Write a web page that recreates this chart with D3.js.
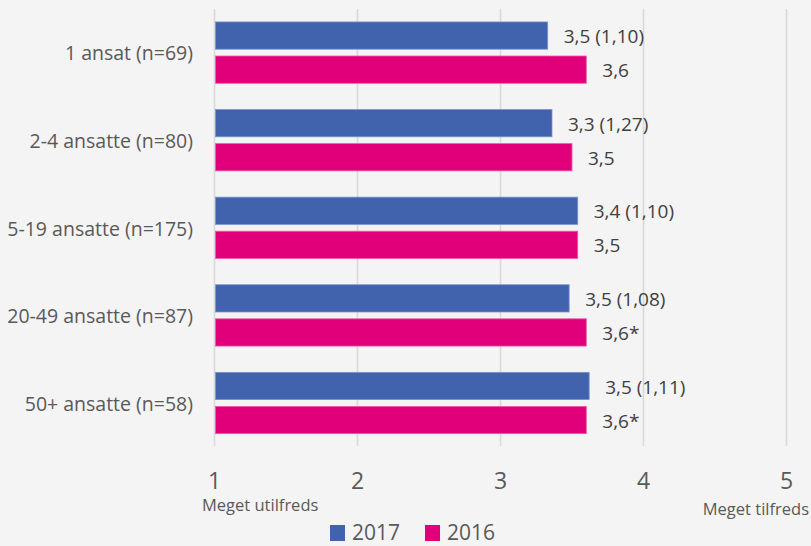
<!DOCTYPE html>
<html>
<head>
<meta charset="utf-8">
<script src="https://d3js.org/d3.v7.min.js"></script>
<style>
  body { margin: 0; background: #f4f4f4; }
  text { font-family: "Open Sans", sans-serif; }
</style>
</head>
<body>
<div id="chart"></div>
<script>
// data
var categories = ["1 ansat (n=69)", "2-4 ansatte (n=80)", "5-19 ansatte (n=175)", "20-49 ansatte (n=87)", "50+ ansatte (n=58)"];
var series = ["2017", "2016"];
var values2017 = [3.33, 3.36, 3.54, 3.48, 3.62];
var values2016 = [3.60, 3.50, 3.54, 3.60, 3.60];
var labels2017 = ["3,5 (1,10)", "3,3 (1,27)", "3,4 (1,10)", "3,5 (1,08)", "3,5 (1,11)"];
var labels2016 = ["3,6", "3,5", "3,5", "3,6*", "3,6*"];
var ticks = [1, 2, 3, 4, 5];
var scaleEnds = ["Meget utilfreds", "Meget tilfreds"];

var colors = { "2017": "#4162ad", "2016": "#e2007a" };
var strokes = { "2017": "#7b93cc", "2016": "#ef5aa8" };

var width = 811, height = 546;

var svg = d3.select("#chart").append("svg")
    .attr("width", width)
    .attr("height", height)
    .style("background", "#f4f4f4");

var x = d3.scaleLinear().domain([1, 5]).range([214.5, 786.5]);

var y = d3.scaleBand()
    .domain(categories)
    .range([8.8, 446.8])
    .paddingInner(0.3)
    .paddingOuter(0.15);

var ySub = d3.scaleBand()
    .domain(series)
    .range([0, y.bandwidth()])
    .paddingInner(0.2);

// grid lines
svg.append("g").selectAll("line")
    .data(ticks)
    .enter().append("line")
    .attr("x1", d => x(d)).attr("x2", d => x(d))
    .attr("y1", 9).attr("y2", 446)
    .attr("stroke", "#d9d9d9")
    .attr("stroke-width", 1.6);

// tick numbers
svg.append("g").selectAll("text")
    .data(ticks)
    .enter().append("text")
    .attr("x", d => x(d))
    .attr("y", 481)
    .attr("dy", "0.35em")
    .attr("text-anchor", "middle")
    .attr("fill", "#595959")
    .style("font-size", "23px")
    .text(d => d);

// scale end texts
svg.append("text")
    .attr("x", 202).attr("y", 505).attr("dy", "0.35em")
    .attr("fill", "#595959").style("font-size", "16.5px")
    .text(scaleEnds[0]);
svg.append("text")
    .attr("x", 809).attr("y", 509).attr("dy", "0.35em")
    .attr("text-anchor", "end")
    .attr("fill", "#595959").style("font-size", "16.5px")
    .text(scaleEnds[1]);

// bars
var rows = categories.map(function (c, i) {
    return [
        { cat: c, key: "2017", value: values2017[i], label: labels2017[i] },
        { cat: c, key: "2016", value: values2016[i], label: labels2016[i] }
    ];
});

var group = svg.append("g").selectAll("g")
    .data(rows)
    .enter().append("g")
    .attr("transform", d => "translate(0," + y(d[0].cat) + ")");

group.selectAll("rect")
    .data(d => d)
    .enter().append("rect")
    .attr("x", x(1) + 1)
    .attr("y", d => ySub(d.key))
    .attr("width", d => x(d.value) - x(1) - 1)
    .attr("height", ySub.bandwidth())
    .attr("fill", d => colors[d.key])
    .attr("stroke", d => strokes[d.key])
    .attr("stroke-width", 0.8);

group.selectAll("text.val")
    .data(d => d)
    .enter().append("text")
    .attr("class", "val")
    .attr("x", d => x(d.value) + 16)
    .attr("y", d => ySub(d.key) + ySub.bandwidth() / 2 + 1)
    .attr("dy", "0.35em")
    .attr("fill", "#404040")
    .style("font-size", "19px")
    .text(d => d.label);

// category labels
svg.append("g").selectAll("text")
    .data(categories)
    .enter().append("text")
    .attr("x", 193)
    .attr("y", d => y(d) + y.bandwidth() / 2 + 1)
    .attr("dy", "0.35em")
    .attr("text-anchor", "end")
    .attr("fill", "#595959")
    .style("font-size", "19.5px")
    .text(d => d);

// legend
var legend = svg.append("g").selectAll("g")
    .data(series)
    .enter().append("g")
    .attr("transform", (d, i) => "translate(" + (330 + i * 95) + ",525)");

legend.append("rect")
    .attr("width", 15).attr("height", 16)
    .attr("fill", d => colors[d]);

legend.append("text")
    .attr("x", 22).attr("y", 8).attr("dy", "0.35em")
    .attr("fill", "#595959")
    .style("font-size", "21px")
    .text(d => d);
</script>
</body>
</html>
